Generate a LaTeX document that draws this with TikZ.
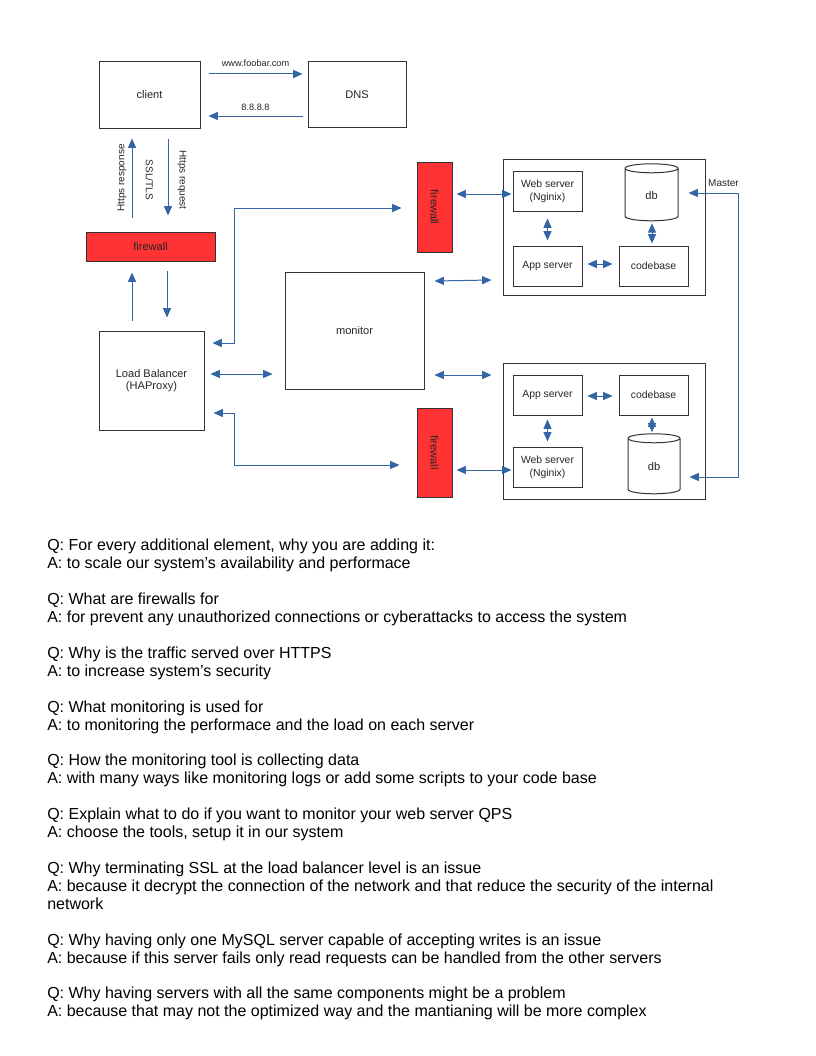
\documentclass[tikz,border=0pt]{standalone}
\usepackage{graphicx}
\usepackage{fontspec}
\setmainfont{Liberation Sans}
\usetikzlibrary{arrows.meta, calc, shapes.geometric}

\definecolor{linkblue}{HTML}{3465A4}
\definecolor{boxgray}{HTML}{333333}
\definecolor{fwred}{HTML}{FF3333}

\tikzset{
  box/.style={draw=boxgray, line width=0.75pt, fill=white, text=black!85, align=center, inner sep=1pt,
    font=\fontsize{8.3}{9.5}\selectfont},
  srv/.style={box, minimum width=51.75pt, minimum height=30pt, font=\fontsize{7.8}{9.5}\selectfont},
  fw/.style={box, fill=fwred},
  dbs/.style={box, cylinder, shape border rotate=90, aspect=0.6},
  link/.style={draw=linkblue, line width=0.75pt, {Triangle[length=7pt, width=6pt]}-{Triangle[length=7pt, width=6pt]}},
  to/.style={draw=linkblue, line width=0.75pt, -{Triangle[length=7pt, width=6pt]}},
  lbl/.style={font=\fontsize{6.9}{8}\selectfont, text=black!85},
  side/.style={font=\fontsize{7.5}{9}\selectfont, text=black!85},
}

\begin{document}
\begin{tikzpicture}[x=0.75pt, y=-0.75pt]
\fill[white] (0,0) rectangle (816,1056);
\useasboundingbox (0,0) rectangle (816,1056);

\node[box, minimum width=75.75pt, minimum height=49.5pt] (client) at (149.5,95) {client};
\node[box, minimum width=73.5pt, minimum height=48.75pt] (dns) at (357,94.5) {DNS};
\node[fw, minimum width=96.75pt, minimum height=21.75pt] (fwc) at (150.5,246.5) {firewall};
\node[box, minimum width=78.75pt, minimum height=74.25pt] (lb) at (151.5,380.5) {Load Balancer\\(HAProxy)};
\node[box, minimum width=104.25pt, minimum height=87.75pt] (mon) at (354.5,330.5) {monitor};
\node[fw, minimum width=26.25pt, minimum height=67.5pt] (fwt) at (434.5,207) {\rotatebox{-90}{firewall}};
\node[fw, minimum width=26.25pt, minimum height=66.75pt] (fwb) at (434.5,452.5) {\rotatebox{-90}{firewall}};

\node[box, minimum width=151.5pt, minimum height=102pt] (cl1) at (604,227) {};
\node[srv] (web1) at (547.5,191) {Web server\\(Nginix)};
\node[srv] (app1) at (547.5,266) {App server};
\node[srv] (code1) at (653.5,266) {codebase};
\node[dbs, minimum width=39.75pt, minimum height=42.75pt] (db1) at (651.5,195.5) {db};

\node[box, minimum width=151.5pt, minimum height=102pt] (cl2) at (604,431) {};
\node[srv] (app2) at (547.5,395) {App server};
\node[srv] (code2) at (653.5,395) {codebase};
\node[srv] (web2) at (547.5,467) {Web server\\(Nginix)};
\node[dbs, minimum width=39pt, minimum height=45pt] (db2) at (654,467) {db};

\node[side, rotate=90] (hresp) at (122,178) {Https response};
\node[side, rotate=-90] (ssl) at (149.5,180) {SSL/TLS};
\node[side, rotate=-90] (hreq) at (182,180) {Https request};

\draw[to] ($(client.east)+(8,-21)$) -- node[lbl, above=2pt] {www.foobar.com} ($(dns.west)+(-5,-20.5)$);
\draw[to] ($(dns.west)+(-5,21.5)$) -- node[lbl, above=0.7pt] {8.8.8.8} ($(client.east)+(8,21)$);
\draw[to] ($(fwc.north)+(-18.5,-14)$) -- ($(client.south)+(-17.5,10)$);
\draw[to] ($(client.south)+(18.5,10)$) -- ($(fwc.north)+(17.5,-16)$);
\draw[to] ($(lb.north)+(-19.5,-10)$) -- ($(fwc.south)+(-18.5,11)$);
\draw[to] ($(fwc.south)+(16.5,9)$) -- ($(lb.north)+(15.5,-13)$);

\draw[link] ($(lb.east)+(6,-6.5)$) -- ($(mon.west)+(-12,43.5)$);
\draw[link] ($(lb.east)+(8,-37.5)$) -- ++(22,0) |- ($(fwt.west)+(-15,1)$);
\draw[link] ($(lb.east)+(9,32.5)$) -- ++(21,0) |- ($(fwb.west)+(-17,12.5)$);
\draw[link] ($(mon.east)+(10,-49.5)$) -- ($(cl1.west)+(-11,53)$);
\draw[link] ($(mon.east)+(10,44.5)$) -- ($(cl2.west)+(-11,-56)$);
\draw[link] ($(fwt.east)+(4,-13)$) -- ($(web1.west)+(-1,3)$);
\draw[link] ($(fwb.east)+(4,17.5)$) -- ($(web2.west)+(-1,3)$);

\draw[link] ($(web1.south)+(0,7)$) -- ($(app1.north)+(0,-5)$);
\draw[link] ($(app1.east)+(5,-2)$) -- ($(code1.west)+(-6,-2)$);
\draw[link] ($(db1.south)+(0.5,2)$) -- ($(code1.north)+(-1.5,-2)$);
\draw[link] ($(app2.east)+(5,1)$) -- ($(code2.west)+(-6,1)$);
\draw[link] ($(app2.south)+(0,4)$) -- ($(web2.north)+(0,-5)$);
\draw[link] ($(code2.south)+(-1.5,2)$) -- ($(db2.north)+(-2,-1)$);
\draw[link] ($(db1.east)+(10,-2.5)$) -- node[side, pos=0.7, above=1pt] {Master} ++(50,0) |- ($(db2.east)+(9,10)$);

\node[anchor=north west, inner sep=0, align=left, font=\fontsize{12}{13.44}\selectfont] (qa) at (47,539) {%
Q: For every additional element, why you are adding it:\\
A: to scale our system’s availability and performace\\[13.44pt]
Q: What are firewalls for\\
A: for prevent any unauthorized connections or cyberattacks to access the system\\[13.44pt]
Q: Why is the traffic served over HTTPS\\
A: to increase system’s security\\[13.44pt]
Q: What monitoring is used for\\
A: to monitoring the performace and the load on each server\\[13.44pt]
Q: How the monitoring tool is collecting data\\
A: with many ways like monitoring logs or add some scripts to your code base\\[13.44pt]
Q: Explain what to do if you want to monitor your web server QPS\\
A: choose the tools, setup it in our system\\[13.44pt]
Q: Why terminating SSL at the load balancer level is an issue\\
A: because it decrypt the connection of the network and that reduce the security of the internal\\
network\\[13.44pt]
Q: Why having only one MySQL server capable of accepting writes is an issue\\
A: because if this server fails only read requests can be handled from the other servers\\[13.44pt]
Q: Why having servers with all the same components might be a problem\\
A: because that may not the optimized way and the mantianing will be more complex};
\end{tikzpicture}
\end{document}
